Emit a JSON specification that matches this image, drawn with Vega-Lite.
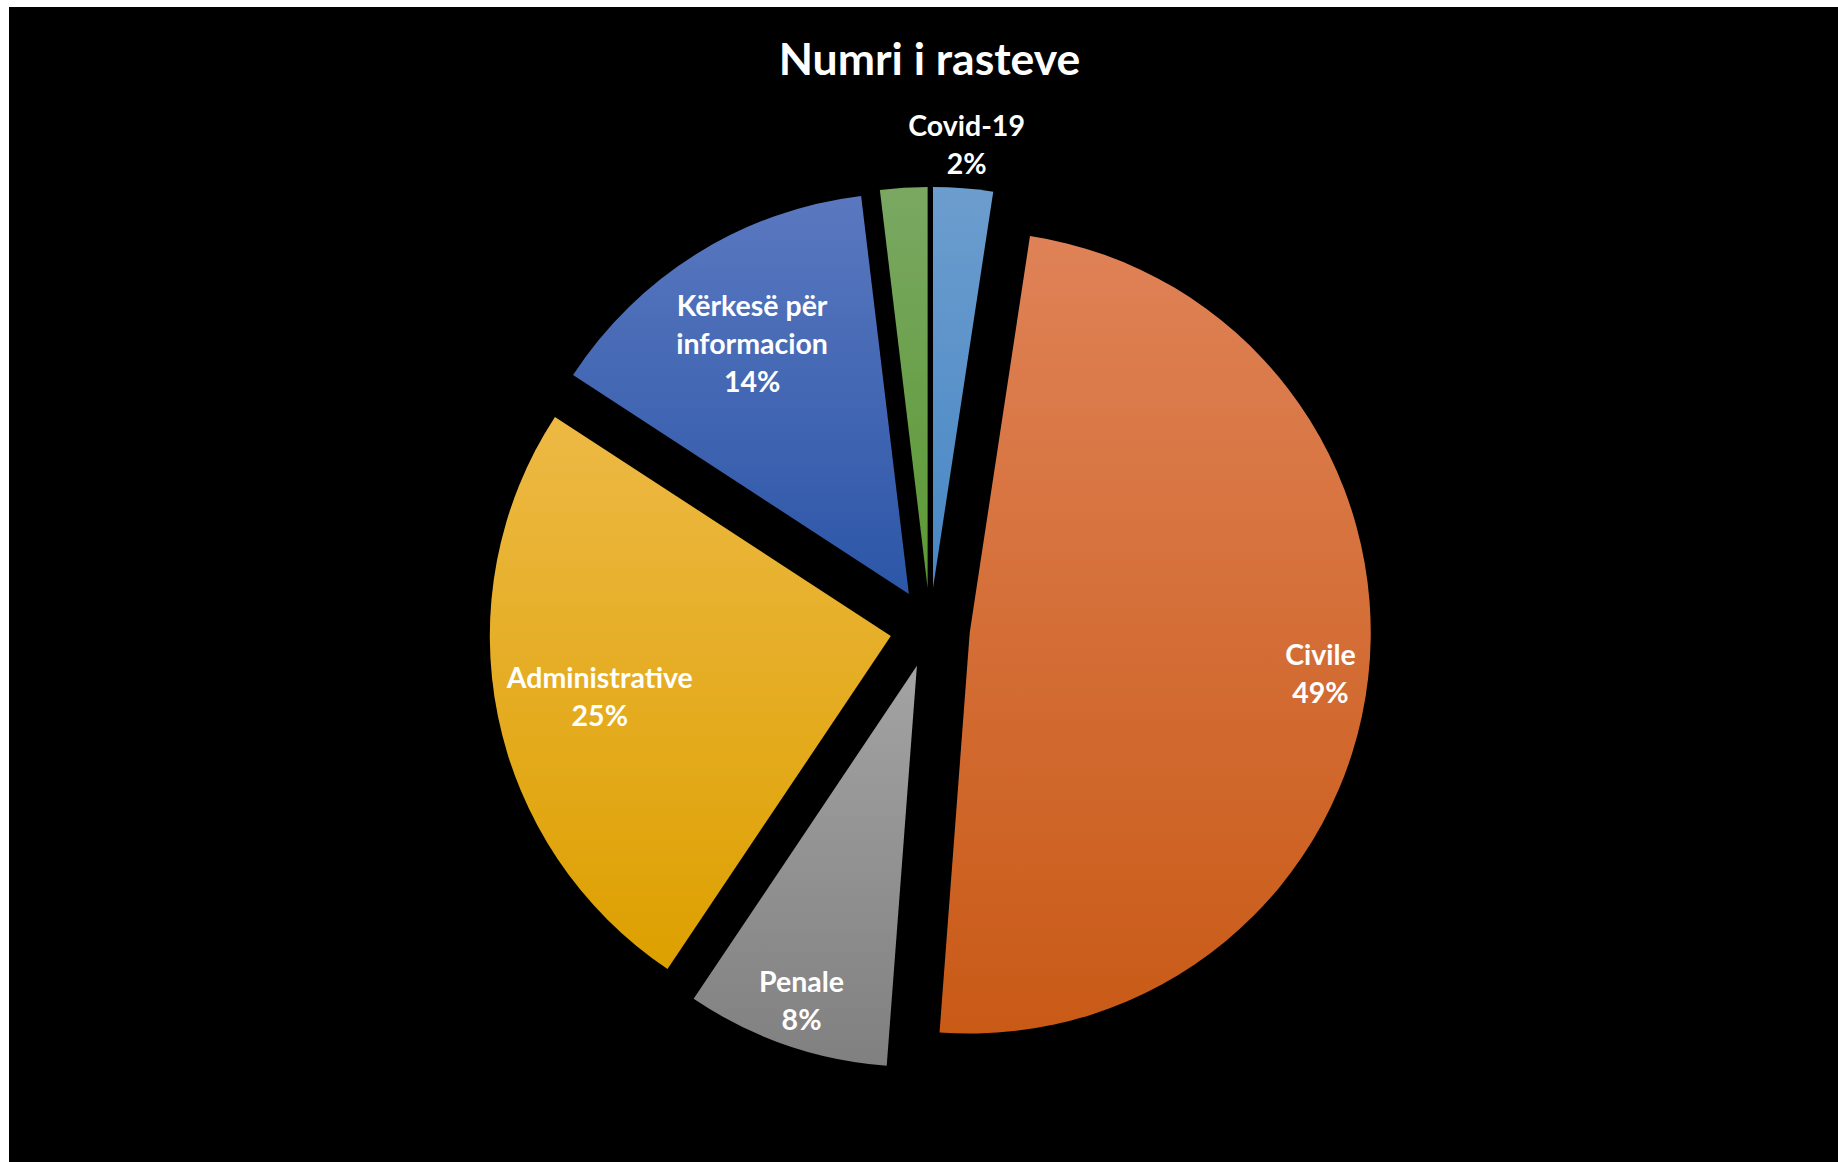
{
  "$schema": "https://vega.github.io/schema/vega-lite/v6.json",
  "autosize": {"type": "fit", "contains": "padding"},
  "width": 1838,
  "height": 1162,
  "padding": {"left": 9, "top": 7, "right": 0, "bottom": 0},
  "background": "white",
  "view": {"fill": "black", "stroke": null},
  "title": {
    "text": "Numri i rasteve",
    "color": "white",
    "font": "Lato",
    "fontSize": 44.5,
    "fontWeight": "bold",
    "anchor": "middle",
    "offset": -77,
    "dx": 6
  },
  "data": {
    "values": [
      {"cat": "Covid-19", "share": 0.024},
      {"cat": "Civile", "share": 0.488},
      {"cat": "Penale", "share": 0.082},
      {"cat": "Administrative", "share": 0.248},
      {"cat": "Kërkesë për\ninformacion", "share": 0.139},
      {"cat": "Të tjera", "share": 0.019}
    ]
  },
  "transform": [{"window": [{"op": "row_number", "as": "rank"}]}],
  "encoding": {
    "theta": {"field": "share", "type": "quantitative", "stack": true},
    "order": {"field": "rank", "type": "quantitative"},
    "detail": {"field": "cat", "type": "nominal"},
    "x": {"value": {"expr": "width/2 + 6.5 + 40*sin((scale('theta', datum.share_start) + scale('theta', datum.share_end))/2)"}},
    "y": {"value": {"expr": "height/2 + 43.5 - 40*cos((scale('theta', datum.share_start) + scale('theta', datum.share_end))/2)"}}
  },
  "layer": [
    {
      "mark": {"type": "arc", "outerRadius": 401, "stroke": null},
      "encoding": {
        "fill": {
          "condition": [
            {"test": "datum.cat === 'Covid-19'", "value": {"gradient": "linear", "x1": 0, "y1": 0, "x2": 0, "y2": 1, "stops": [{"offset": 0, "color": "#6C9DCE"}, {"offset": 1, "color": "#4787C5"}]}},
            {"test": "datum.cat === 'Civile'", "value": {"gradient": "linear", "x1": 0, "y1": 0, "x2": 0, "y2": 1, "stops": [{"offset": 0, "color": "#DF8257"}, {"offset": 1, "color": "#C95A16"}]}},
            {"test": "datum.cat === 'Penale'", "value": {"gradient": "linear", "x1": 0, "y1": 0, "x2": 0, "y2": 1, "stops": [{"offset": 0, "color": "#A3A3A3"}, {"offset": 1, "color": "#808080"}]}},
            {"test": "datum.cat === 'Administrative'", "value": {"gradient": "linear", "x1": 0, "y1": 0, "x2": 0, "y2": 1, "stops": [{"offset": 0, "color": "#EDB944"}, {"offset": 1, "color": "#DDA000"}]}},
            {"test": "datum.cat === 'Kërkesë për\\ninformacion'", "value": {"gradient": "linear", "x1": 0, "y1": 0, "x2": 0, "y2": 1, "stops": [{"offset": 0, "color": "#5A78C0"}, {"offset": 1, "color": "#2C56A7"}]}}
          ],
          "value": {"gradient": "linear", "x1": 0, "y1": 0, "x2": 0, "y2": 1, "stops": [{"offset": 0, "color": "#7AA862"}, {"offset": 1, "color": "#5C9934"}]}
        }
      }
    },
    {
      "mark": {"type": "text", "font": "Lato", "fontSize": 28.5, "fontWeight": "bold", "fill": "white", "baseline": "alphabetic", "dy": -7, "lineBreak": "\n", "lineHeight": 38},
      "encoding": {
        "y": {"value": {"expr": "height/2 + 43.5 - 40*cos((scale('theta', datum.share_start) + scale('theta', datum.share_end))/2) - 19*(length(split(datum.cat, '\\n')) - 1)"}},
        "radius": {"value": {"expr": "395 - 7*min(length(datum.cat), 14)"}},
        "text": {"condition": {"test": "datum.share > 0.05", "field": "cat", "type": "nominal"}, "value": ""}
      }
    },
    {
      "mark": {"type": "text", "font": "Lato", "fontSize": 28.5, "fontWeight": "bold", "fill": "white", "baseline": "alphabetic", "dy": 31},
      "encoding": {
        "y": {"value": {"expr": "height/2 + 43.5 - 40*cos((scale('theta', datum.share_start) + scale('theta', datum.share_end))/2) + 19*(length(split(datum.cat, '\\n')) - 1)"}},
        "radius": {"value": {"expr": "395 - 7*min(length(datum.cat), 14)"}},
        "text": {"condition": {"test": "datum.share > 0.05", "field": "share", "type": "quantitative", "format": ".0%"}, "value": ""}
      }
    },
    {
      "mark": {"type": "text", "radius": 446, "font": "Lato", "fontSize": 28.5, "fontWeight": "bold", "fill": "white", "baseline": "alphabetic", "dy": -7},
      "encoding": {
        "text": {"condition": {"test": "datum.cat === 'Covid-19'", "field": "cat", "type": "nominal"}, "value": ""}
      }
    },
    {
      "mark": {"type": "text", "radius": 446, "font": "Lato", "fontSize": 28.5, "fontWeight": "bold", "fill": "white", "baseline": "alphabetic", "dy": 31},
      "encoding": {
        "text": {"condition": {"test": "datum.cat === 'Covid-19'", "field": "share", "type": "quantitative", "format": ".0%"}, "value": ""}
      }
    }
  ]
}
